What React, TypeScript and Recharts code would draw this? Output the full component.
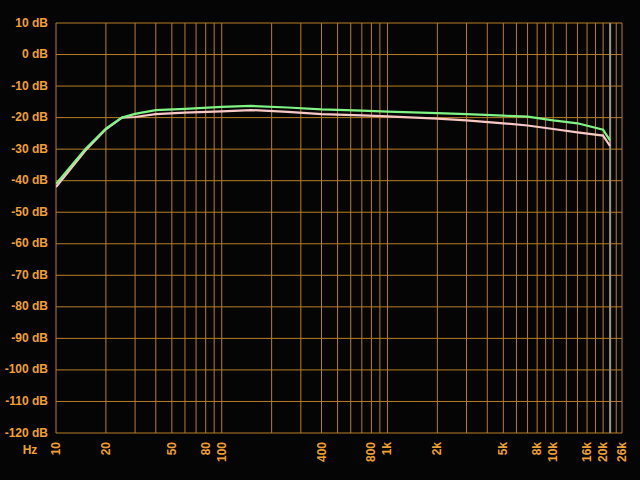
import { LineChart, Line, XAxis, YAxis, CartesianGrid, ReferenceLine } from "recharts";

// frequency points of the two measured curves (Hz)
const freqs = [10, 15, 20, 25, 30, 40, 60, 100, 150, 250, 400, 700, 1000, 2000, 3000, 5000, 7000, 10000, 14000, 20000, 22000];
// green curve (dB)
const greenDb = [-41, -30, -23.5, -20, -18.8, -17.6, -17.2, -16.6, -16.3, -16.8, -17.4, -17.8, -18.1, -18.6, -18.9, -19.4, -19.7, -20.9, -21.8, -23.8, -27.2];
// pink curve (dB)
const pinkDb = [-42, -30.5, -23.7, -20, -19.8, -18.9, -18.4, -18, -17.6, -18.2, -18.9, -19.3, -19.6, -20.3, -20.9, -21.8, -22.5, -23.6, -24.7, -25.7, -29];

// vertical grid lines
const gridFreqs = [
  10, 20, 30, 40, 50, 60, 70, 80, 90, 100,
  200, 300, 400, 500, 600, 700, 800, 900, 1000,
  2000, 3000, 4000, 5000, 6000, 7000, 8000, 9000, 10000,
  12000, 14000, 16000, 18000, 20000, 22000, 24000, 26000,
];
// labelled frequencies
const freqLabels: { [k: number]: string } = {
  10: "10", 20: "20", 50: "50", 80: "80", 100: "100", 400: "400", 800: "800",
  1000: "1k", 2000: "2k", 5000: "5k", 8000: "8k", 10000: "10k", 16000: "16k", 20000: "20k", 26000: "26k",
};
const dbTicks = [-120, -110, -100, -90, -80, -70, -60, -50, -40, -30, -20, -10, 0, 10];
const nyquist = 22050;

const data = freqs.map((f, i) => ({ f, green: greenDb[i], pink: pinkDb[i] }));

const TEXT = "#f0a030";
const FONT = "'Liberation Sans', Arial, sans-serif";

const FreqTick = (props: any) => {
  const { x, y, payload } = props;
  const label = freqLabels[payload.value];
  const ty = y + 9;
  return (
    <g>
      {payload.value === 10 && (
        <text x={x - 26} y={ty + 8} fill={TEXT} fontSize={12} fontWeight="bold" fontFamily={FONT} textAnchor="middle" dominantBaseline="central">
          Hz
        </text>
      )}
      {label && (
        <text
          x={x}
          y={ty}
          transform={`rotate(-90 ${x} ${ty})`}
          fill={TEXT}
          fontSize={12}
          fontWeight="bold"
          fontFamily={FONT}
          textAnchor="end"
          dominantBaseline="central"
        >
          {label}
        </text>
      )}
    </g>
  );
};

const DbTick = (props: any) => {
  const { x, y, payload } = props;
  return (
    <text x={x} y={y - 0.5} fill={TEXT} fontSize={12} fontWeight="bold" fontFamily={FONT} textAnchor="end" dominantBaseline="central">
      {`${payload.value} dB`}
    </text>
  );
};

export default function App() {
  return (
    <div style={{ width: 640, height: 480, background: "#050505" }}>
      <style>{`body{margin:0;background:#050505}`}</style>
      <LineChart width={640} height={480} data={data} margin={{ top: 23, right: 18, left: 0, bottom: 0 }}>
        <CartesianGrid stroke="#b87e28" strokeWidth={1} />
        <XAxis
          dataKey="f"
          type="number"
          scale="log"
          domain={[10, 26000]}
          ticks={gridFreqs}
          interval={0}
          height={47}
          axisLine={false}
          tickLine={false}
          tickSize={0}
          tickMargin={0}
          tick={<FreqTick />}
          allowDataOverflow
        />
        <YAxis
          type="number"
          domain={[-120, 10]}
          ticks={dbTicks}
          interval={0}
          width={56}
          axisLine={false}
          tickLine={false}
          tickSize={0}
          tickMargin={8}
          tick={<DbTick />}
          allowDataOverflow
        />
        <ReferenceLine x={nyquist} stroke="#9c9484" strokeWidth={2} />
        <Line type="linear" dataKey="pink" stroke="#f8c8c4" strokeWidth={2.2} dot={false} isAnimationActive={false} />
        <Line type="linear" dataKey="green" stroke="#80f484" strokeWidth={2.2} dot={false} isAnimationActive={false} />
      </LineChart>
    </div>
  );
}
